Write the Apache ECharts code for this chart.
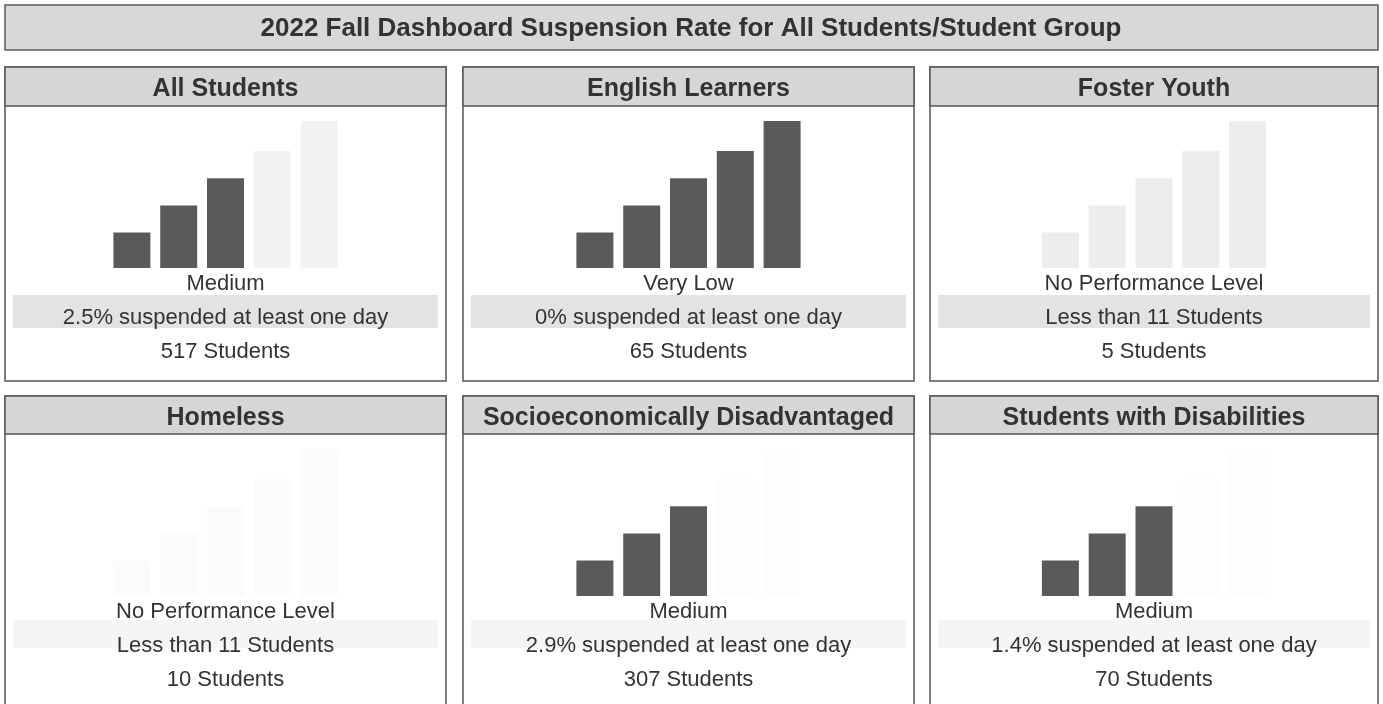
<!DOCTYPE html>
<html>
<head>
<meta charset="utf-8">
<script src="https://cdn.jsdelivr.net/npm/echarts@6/dist/echarts.min.js"></script>
<style>
html,body{margin:0;padding:0;background:#fff;}
#chart{width:1383px;height:704px;}
</style>
</head>
<body>
<div id="chart"></div>
<script>
// ---- data ----
const chartTitle = '2022 Fall Dashboard Suspension Rate for All Students/Student Group';
const groups = ['All Students', 'English Learners', 'Foster Youth', 'Homeless', 'Socioeconomically Disadvantaged', 'Students with Disabilities'];
const barLevels = ['1', '2', '3', '4', '5'];
const barHeights = [1.3, 2.3, 3.3, 4.3, 5.4];
const filledBars = [3, 5, 0, 0, 3, 3];
const statusLabels = ['Medium', 'Very Low', 'No Performance Level', 'No Performance Level', 'Medium', 'Medium'];
const rateLines = ['2.5% suspended at least one day', '0% suspended at least one day', 'Less than 11 Students', 'Less than 11 Students', '2.9% suspended at least one day', '1.4% suspended at least one day'];
const studentCounts = [517, 65, 5, 10, 307, 70];

// ---- layout/styles ----
const cols = [[5, 446], [463, 914], [930, 1378]];
const rows = [
  {top: 67, head: 106, bottom: 381, barBottom: 268, lines: [284, 318, 352], band: [295, 328], bandColor: '#e3e3e3'},
  {top: 396, head: 434, bottom: 730, barBottom: 596, lines: [612, 646, 680], band: [620, 648], bandColor: '#f5f5f5'}
];
const faintColors = ['#f2f2f2', '#f2f2f2', '#ededed', '#fbfbfb', '#fdfdfd', '#fdfdfd'];
const darkColor = '#5a5a5a';
const textColor = '#333333';
const gridH = 147, gridW = 234;

const chart = echarts.init(document.getElementById('chart'), null, {renderer: 'canvas'});

const graphics = [];
// main title bar
graphics.push({type: 'rect', z: 0, shape: {x: 5, y: 5, width: 1373, height: 45},
  style: {fill: '#d8d8d8', stroke: '#5a5a5a', lineWidth: 1.5}});
graphics.push({type: 'text', z: 5, style: {text: chartTitle, x: 691, y: 29, textAlign: 'center', textVerticalAlign: 'middle',
  font: 'bold 26px "Liberation Sans", Arial, sans-serif', fill: textColor}});

const grids = [], xAxes = [], yAxes = [], series = [];
groups.forEach((g, i) => {
  const r = rows[Math.floor(i / 3)];
  const c = cols[i % 3];
  const w = c[1] - c[0];
  const cx = (c[0] + c[1]) / 2;
  // panel box
  graphics.push({type: 'rect', z: 0, shape: {x: c[0], y: r.top, width: w, height: r.bottom - r.top},
    style: {fill: '#ffffff', stroke: '#555555', lineWidth: 1.5}});
  // header
  graphics.push({type: 'rect', z: 1, shape: {x: c[0], y: r.top, width: w, height: r.head - r.top},
    style: {fill: '#d6d6d6', stroke: '#555555', lineWidth: 1.5}});
  graphics.push({type: 'text', z: 5, style: {text: g, x: cx, y: (r.top + r.head) / 2 + 3, textAlign: 'center', textVerticalAlign: 'middle',
    font: 'bold 25px "Liberation Sans", Arial, sans-serif', fill: textColor}});
  // light band behind second line
  graphics.push({type: 'rect', z: 1, shape: {x: c[0] + 8, y: r.band[0], width: w - 16, height: r.band[1] - r.band[0]},
    style: {fill: r.bandColor}});
  // text lines
  const lines = [statusLabels[i], rateLines[i], studentCounts[i] + ' Students'];
  lines.forEach((t, k) => {
    graphics.push({type: 'text', z: 5, style: {text: t, x: cx, y: r.lines[k], textAlign: 'center', textVerticalAlign: 'middle',
      font: '22px "Liberation Sans", Arial, sans-serif', fill: textColor}});
  });
  // grid for bars
  grids.push({left: cx - gridW / 2, top: r.barBottom - gridH, width: gridW, height: gridH, containLabel: false});
  xAxes.push({type: 'category', gridIndex: i, data: barLevels, show: false});
  yAxes.push({type: 'value', gridIndex: i, min: 0, max: 5.4, show: false});
  series.push({
    type: 'bar', xAxisIndex: i, yAxisIndex: i, barWidth: 37, z: 3, silent: true,
    data: barHeights.map((v, k) => ({value: v, itemStyle: {color: k < filledBars[i] ? darkColor : faintColors[i]}}))
  });
});

chart.setOption({
  animation: false,
  backgroundColor: '#ffffff',
  graphic: {elements: graphics},
  grid: grids,
  xAxis: xAxes,
  yAxis: yAxes,
  series: series
});
</script>
</body>
</html>
